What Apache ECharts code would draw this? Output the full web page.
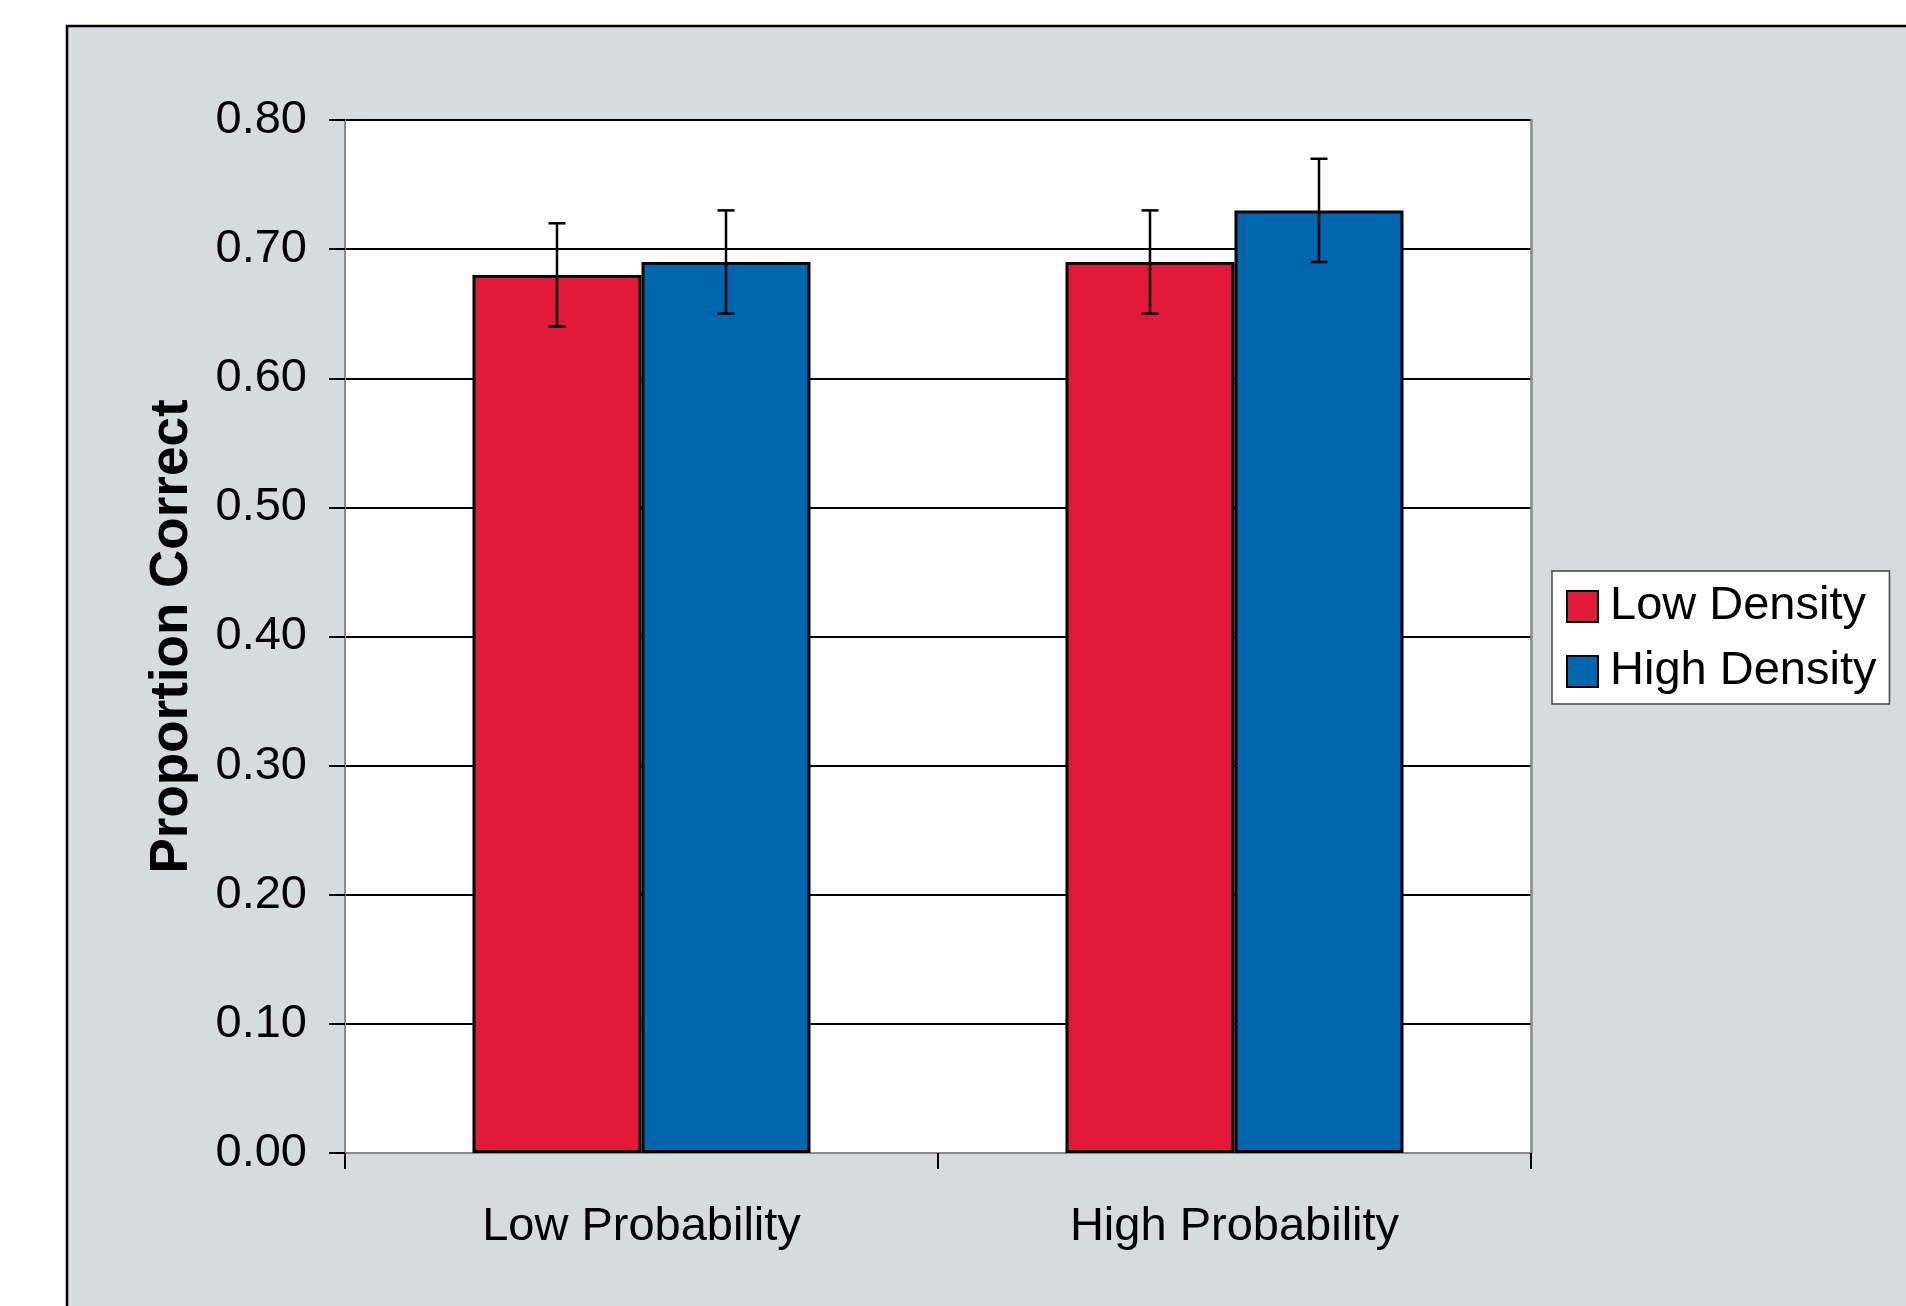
<!DOCTYPE html>
<html>
<head>
<meta charset="utf-8">
<script src="https://cdn.jsdelivr.net/npm/echarts@6/dist/echarts.min.js"></script>
<style>
html,body{margin:0;padding:0;background:#fff;}
#chart{width:1906px;height:1306px;}
</style>
</head>
<body>
<div id="chart"></div>
<script>
var categories = ['Low Probability', 'High Probability'];
var seriesNames = ['Low Density', 'High Density'];
var lowDensity = [0.68, 0.69];
var highDensity = [0.69, 0.73];
var lowDensityErrLow = [0.64, 0.65];
var lowDensityErrHigh = [0.72, 0.73];
var highDensityErrLow = [0.65, 0.69];
var highDensityErrHigh = [0.73, 0.77];
var yTicks = [0, 0.1, 0.2, 0.3, 0.4, 0.5, 0.6, 0.7, 0.8];

var FONT = '"Liberation Sans", Arial, sans-serif';
var RED = '#e11a3a';
var BLUE = '#0066ae';
var CAT_GAP = 0.43;

function errData(lo, hi) {
  return categories.map(function (c, i) { return [i, lo[i], hi[i]]; });
}
function errRender(sign) {
  return function (params, api) {
    var idx = api.value(0);
    var lowP = api.coord([idx, api.value(1)]);
    var highP = api.coord([idx, api.value(2)]);
    var band = api.size([1, 0])[0];
    var off = sign * band * (1 - CAT_GAP) / 4;
    var x = lowP[0] + off;
    var cap = 8.5;
    var st = { stroke: '#000', lineWidth: 2.5 };
    return {
      type: 'group',
      children: [
        { type: 'line', shape: { x1: x, y1: highP[1], x2: x, y2: lowP[1] }, style: st },
        { type: 'line', shape: { x1: x - cap, y1: highP[1], x2: x + cap, y2: highP[1] }, style: st },
        { type: 'line', shape: { x1: x - cap, y1: lowP[1], x2: x + cap, y2: lowP[1] }, style: st }
      ]
    };
  };
}

var chart = echarts.init(document.getElementById('chart'), null, { renderer: 'canvas' });
chart.setOption({
  backgroundColor: '#ffffff',
  animation: false,
  textStyle: { fontFamily: FONT },
  graphic: [{
    type: 'rect', z: -10, silent: true,
    shape: { x: 67, y: 26, width: 1900, height: 1350 },
    style: { fill: '#d6dbde', stroke: '#000', lineWidth: 2.5 }
  }],
  grid: {
    left: 345, right: 375, top: 120, bottom: 153,
    show: true, backgroundColor: '#ffffff', borderWidth: 0
  },
  legend: {
    orient: 'vertical',
    left: 1552, top: 571,
    backgroundColor: '#ffffff',
    borderColor: '#444', borderWidth: 1.5,
    padding: [11, 13, 8, 14],
    itemWidth: 31, itemHeight: 31, itemGap: 16,
    icon: 'rect',
    data: seriesNames,
    textStyle: { fontFamily: FONT, fontSize: 47, color: '#000', lineHeight: 47, padding: [2, 0, 0, 7] }
  },
  xAxis: {
    type: 'category',
    data: categories,
    axisLine: { lineStyle: { color: '#8a8a8a', width: 2 } },
    axisTick: { show: true, length: 16, lineStyle: { color: '#000', width: 2 } },
    axisLabel: { fontFamily: FONT, fontSize: 47, color: '#000', margin: 51 },
    splitLine: { show: false }
  },
  yAxis: [{
    type: 'value',
    min: 0, max: 0.8, interval: 0.1,
    name: 'Proportion Correct',
    nameLocation: 'middle',
    nameGap: 146,
    nameTextStyle: { fontFamily: FONT, fontSize: 53, fontWeight: 'bold', color: '#000' },
    axisLine: { show: true, lineStyle: { color: '#8a8a8a', width: 2 } },
    axisTick: { show: true, length: 16, lineStyle: { color: '#000', width: 2 } },
    axisLabel: {
      fontFamily: FONT, fontSize: 47, color: '#000', margin: 38,
      formatter: function (v) { return v.toFixed(2); }
    },
    splitLine: { show: true, lineStyle: { color: '#000', width: 2 } }
  }, {
    type: 'value',
    position: 'right',
    min: 0, max: 0.8, interval: 0.1,
    axisLine: { show: true, lineStyle: { color: '#8a8a8a', width: 2.5 } },
    axisTick: { show: false },
    axisLabel: { show: false },
    splitLine: { show: false }
  }],
  series: [
    {
      name: seriesNames[0], type: 'bar', data: lowDensity,
      barGap: '0%', barCategoryGap: (CAT_GAP * 100) + '%',
      itemStyle: { color: RED, borderColor: '#000', borderWidth: 3 }
    },
    {
      name: seriesNames[1], type: 'bar', data: highDensity,
      barGap: '0%', barCategoryGap: (CAT_GAP * 100) + '%',
      itemStyle: { color: BLUE, borderColor: '#000', borderWidth: 3 }
    },
    {
      type: 'custom', name: 'errLow', renderItem: errRender(-1),
      data: errData(lowDensityErrLow, lowDensityErrHigh), z: 10,
      encode: { x: 0, y: [1, 2] }
    },
    {
      type: 'custom', name: 'errHigh', renderItem: errRender(1),
      data: errData(highDensityErrLow, highDensityErrHigh), z: 10,
      encode: { x: 0, y: [1, 2] }
    }
  ]
});
</script>
</body>
</html>
